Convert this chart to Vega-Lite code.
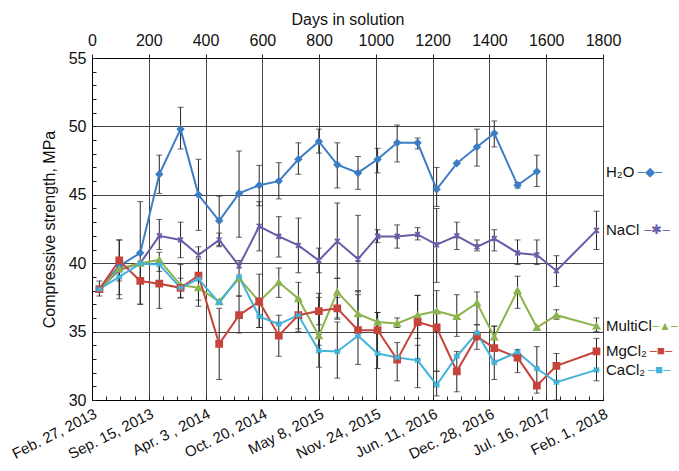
{
  "$schema": "https://vega.github.io/schema/vega-lite/v6.json",
  "width": 511,
  "height": 342,
  "autosize": {"type": "none"},
  "padding": {"left": 92, "top": 58, "right": 76, "bottom": 71},
  "config": {
    "font": "Liberation Sans, Arial, sans-serif",
    "view": {"stroke": "#000", "strokeWidth": 1},
    "axis": {
      "labelFont": "Liberation Sans, Arial, sans-serif",
      "titleFont": "Liberation Sans, Arial, sans-serif",
      "labelColor": "#111",
      "titleColor": "#111",
      "titleFontWeight": "normal",
      "domainColor": "#000",
      "tickColor": "#222",
      "gridColor": "#444",
      "gridWidth": 1
    }
  },
  "data": {
    "values": [
      {"series": "H₂O", "day": 26, "value": 38.1, "lo": 37.6, "hi": 38.7},
      {"series": "H₂O", "day": 96, "value": 39.8, "lo": 37.4, "hi": 41.7},
      {"series": "H₂O", "day": 170, "value": 40.75, "lo": 37.0, "hi": 44.5},
      {"series": "H₂O", "day": 237, "value": 46.5, "lo": 45.1, "hi": 47.9},
      {"series": "H₂O", "day": 312, "value": 49.8, "lo": 48.35, "hi": 51.4},
      {"series": "H₂O", "day": 375, "value": 45.0, "lo": 42.4, "hi": 47.6},
      {"series": "H₂O", "day": 448, "value": 43.1, "lo": 41.3, "hi": 44.9},
      {"series": "H₂O", "day": 518, "value": 45.1, "lo": 41.9, "hi": 48.2},
      {"series": "H₂O", "day": 589, "value": 45.7, "lo": 44.2, "hi": 47.15},
      {"series": "H₂O", "day": 658, "value": 46.0, "lo": 44.7, "hi": 47.35},
      {"series": "H₂O", "day": 727, "value": 47.6, "lo": 46.5, "hi": 48.8},
      {"series": "H₂O", "day": 799, "value": 48.9, "lo": 48.05, "hi": 49.8},
      {"series": "H₂O", "day": 864, "value": 47.2, "lo": 45.5, "hi": 48.8},
      {"series": "H₂O", "day": 937, "value": 46.6, "lo": 45.4, "hi": 47.8},
      {"series": "H₂O", "day": 1006, "value": 47.6, "lo": 46.6, "hi": 48.4},
      {"series": "H₂O", "day": 1075, "value": 48.8, "lo": 47.4, "hi": 50.1},
      {"series": "H₂O", "day": 1147, "value": 48.8, "lo": 48.35, "hi": 49.15},
      {"series": "H₂O", "day": 1214, "value": 45.4, "lo": 44.15, "hi": 47.0},
      {"series": "H₂O", "day": 1285, "value": 47.3, "lo": null, "hi": null},
      {"series": "H₂O", "day": 1356, "value": 48.5, "lo": 47.1, "hi": 49.8},
      {"series": "H₂O", "day": 1417, "value": 49.5, "lo": 48.5, "hi": 50.4},
      {"series": "H₂O", "day": 1499, "value": 45.7, "lo": 45.5, "hi": 45.9},
      {"series": "H₂O", "day": 1567, "value": 46.7, "lo": 45.6, "hi": 47.9},

      {"series": "NaCl", "day": 26, "value": 38.1, "lo": null, "hi": null},
      {"series": "NaCl", "day": 96, "value": 39.5, "lo": null, "hi": null},
      {"series": "NaCl", "day": 170, "value": 40.0, "lo": null, "hi": null},
      {"series": "NaCl", "day": 237, "value": 42.0, "lo": 41.0, "hi": 43.2},
      {"series": "NaCl", "day": 312, "value": 41.7, "lo": 40.4, "hi": 43.0},
      {"series": "NaCl", "day": 375, "value": 40.6, "lo": 40.0, "hi": 41.2},
      {"series": "NaCl", "day": 448, "value": 41.7, "lo": 41.2, "hi": 42.2},
      {"series": "NaCl", "day": 518, "value": 39.8, "lo": null, "hi": null},
      {"series": "NaCl", "day": 589, "value": 42.7, "lo": 40.9, "hi": 44.5},
      {"series": "NaCl", "day": 658, "value": 41.96, "lo": 40.45, "hi": 43.4},
      {"series": "NaCl", "day": 727, "value": 41.3, "lo": 39.3, "hi": 43.3},
      {"series": "NaCl", "day": 799, "value": 40.2, "lo": 39.3, "hi": 41.1},
      {"series": "NaCl", "day": 864, "value": 41.6, "lo": 38.9, "hi": 44.4},
      {"series": "NaCl", "day": 937, "value": 40.3, "lo": 37.9, "hi": 43.5},
      {"series": "NaCl", "day": 1006, "value": 41.96, "lo": 41.5, "hi": 42.45},
      {"series": "NaCl", "day": 1075, "value": 41.96, "lo": 41.1, "hi": 42.8},
      {"series": "NaCl", "day": 1147, "value": 42.1, "lo": 41.7, "hi": 42.6},
      {"series": "NaCl", "day": 1214, "value": 41.35, "lo": 38.6, "hi": 44.0},
      {"series": "NaCl", "day": 1285, "value": 42.0, "lo": 41.0, "hi": 43.0},
      {"series": "NaCl", "day": 1356, "value": 41.2, "lo": 40.9, "hi": 41.7},
      {"series": "NaCl", "day": 1417, "value": 41.8, "lo": 40.9, "hi": 42.45},
      {"series": "NaCl", "day": 1499, "value": 40.75, "lo": 39.9, "hi": 41.7},
      {"series": "NaCl", "day": 1567, "value": 40.6, "lo": 39.9, "hi": 41.7},
      {"series": "NaCl", "day": 1636, "value": 39.45, "lo": 38.3, "hi": 40.55},
      {"series": "NaCl", "day": 1777, "value": 42.4, "lo": 41.0, "hi": 43.8},

      {"series": "MultiCl", "day": 26, "value": 38.1, "lo": null, "hi": null},
      {"series": "MultiCl", "day": 96, "value": 39.6, "lo": null, "hi": null},
      {"series": "MultiCl", "day": 170, "value": 40.0, "lo": null, "hi": null},
      {"series": "MultiCl", "day": 237, "value": 40.25, "lo": 39.4, "hi": 40.8},
      {"series": "MultiCl", "day": 312, "value": 38.4, "lo": 37.45, "hi": 39.9},
      {"series": "MultiCl", "day": 375, "value": 38.2, "lo": 36.85, "hi": 38.9},
      {"series": "MultiCl", "day": 448, "value": 37.2, "lo": null, "hi": null},
      {"series": "MultiCl", "day": 518, "value": 38.9, "lo": 37.6, "hi": 40.2},
      {"series": "MultiCl", "day": 589, "value": 37.2, "lo": 35.3, "hi": 39.2},
      {"series": "MultiCl", "day": 658, "value": 38.6, "lo": 37.5, "hi": 39.65},
      {"series": "MultiCl", "day": 727, "value": 37.4, "lo": 35.2, "hi": 38.6},
      {"series": "MultiCl", "day": 799, "value": 34.7, "lo": 34.0, "hi": 37.8},
      {"series": "MultiCl", "day": 864, "value": 37.9, "lo": 36.0, "hi": 38.9},
      {"series": "MultiCl", "day": 937, "value": 36.3, "lo": 35.0, "hi": 38.0},
      {"series": "MultiCl", "day": 1006, "value": 35.7, "lo": 35.1, "hi": 36.4},
      {"series": "MultiCl", "day": 1075, "value": 35.6, "lo": 35.3, "hi": 36.0},
      {"series": "MultiCl", "day": 1147, "value": 36.2, "lo": 34.5, "hi": 37.65},
      {"series": "MultiCl", "day": 1214, "value": 36.5, "lo": 35.0, "hi": 38.0},
      {"series": "MultiCl", "day": 1285, "value": 36.1, "lo": 34.65, "hi": 37.7},
      {"series": "MultiCl", "day": 1356, "value": 37.1, "lo": 35.5, "hi": 37.9},
      {"series": "MultiCl", "day": 1417, "value": 34.6, "lo": 33.8, "hi": 35.4},
      {"series": "MultiCl", "day": 1499, "value": 38.0, "lo": 36.7, "hi": 39.05},
      {"series": "MultiCl", "day": 1567, "value": 35.3, "lo": null, "hi": null},
      {"series": "MultiCl", "day": 1636, "value": 36.2, "lo": 35.9, "hi": 36.6},
      {"series": "MultiCl", "day": 1777, "value": 35.4, "lo": 35.0, "hi": 36.0},

      {"series": "MgCl₂", "day": 26, "value": 38.1, "lo": null, "hi": null},
      {"series": "MgCl₂", "day": 96, "value": 40.2, "lo": 38.7, "hi": 41.7},
      {"series": "MgCl₂", "day": 170, "value": 38.7, "lo": 37.0, "hi": 40.0},
      {"series": "MgCl₂", "day": 237, "value": 38.5, "lo": 36.7, "hi": 40.0},
      {"series": "MgCl₂", "day": 312, "value": 38.2, "lo": 37.5, "hi": 38.9},
      {"series": "MgCl₂", "day": 375, "value": 39.1, "lo": 37.3, "hi": 40.3},
      {"series": "MgCl₂", "day": 448, "value": 34.1, "lo": 31.5, "hi": 36.7},
      {"series": "MgCl₂", "day": 518, "value": 36.2, "lo": 34.9, "hi": 37.6},
      {"series": "MgCl₂", "day": 589, "value": 37.2, "lo": null, "hi": null},
      {"series": "MgCl₂", "day": 658, "value": 34.7, "lo": 33.2, "hi": 36.2},
      {"series": "MgCl₂", "day": 727, "value": 36.2, "lo": 35.0, "hi": 37.4},
      {"series": "MgCl₂", "day": 799, "value": 36.5, "lo": 35.5, "hi": 37.5},
      {"series": "MgCl₂", "day": 864, "value": 36.7, "lo": 35.9, "hi": 37.5},
      {"series": "MgCl₂", "day": 937, "value": 35.1, "lo": 32.6, "hi": 37.7},
      {"series": "MgCl₂", "day": 1006, "value": 35.1, "lo": 32.3, "hi": 36.4},
      {"series": "MgCl₂", "day": 1075, "value": 32.95, "lo": 31.4, "hi": 34.2},
      {"series": "MgCl₂", "day": 1147, "value": 35.7, "lo": 33.0, "hi": 37.65},
      {"series": "MgCl₂", "day": 1214, "value": 35.3, "lo": 32.1, "hi": 36.5},
      {"series": "MgCl₂", "day": 1285, "value": 32.1, "lo": 30.6, "hi": 33.55},
      {"series": "MgCl₂", "day": 1356, "value": 34.65, "lo": 33.7, "hi": 35.5},
      {"series": "MgCl₂", "day": 1417, "value": 33.8, "lo": 31.5, "hi": 35.4},
      {"series": "MgCl₂", "day": 1499, "value": 33.1, "lo": 32.0, "hi": 33.7},
      {"series": "MgCl₂", "day": 1567, "value": 31.05, "lo": 30.5, "hi": 33.9},
      {"series": "MgCl₂", "day": 1636, "value": 32.5, "lo": 30.0, "hi": 33.4},
      {"series": "MgCl₂", "day": 1777, "value": 33.55, "lo": 31.4, "hi": 34.5},

      {"series": "CaCl₂", "day": 26, "value": 38.1, "lo": null, "hi": null},
      {"series": "CaCl₂", "day": 96, "value": 39.0, "lo": 37.7, "hi": 40.3},
      {"series": "CaCl₂", "day": 170, "value": 39.96, "lo": null, "hi": null},
      {"series": "CaCl₂", "day": 237, "value": 39.9, "lo": null, "hi": null},
      {"series": "CaCl₂", "day": 312, "value": 38.2, "lo": null, "hi": null},
      {"series": "CaCl₂", "day": 375, "value": 38.85, "lo": null, "hi": null},
      {"series": "CaCl₂", "day": 448, "value": 37.1, "lo": null, "hi": null},
      {"series": "CaCl₂", "day": 518, "value": 39.0, "lo": null, "hi": null},
      {"series": "CaCl₂", "day": 589, "value": 36.1, "lo": 35.3, "hi": 37.0},
      {"series": "CaCl₂", "day": 658, "value": 35.55, "lo": null, "hi": null},
      {"series": "CaCl₂", "day": 727, "value": 36.2, "lo": null, "hi": null},
      {"series": "CaCl₂", "day": 799, "value": 33.6, "lo": 32.4, "hi": 34.8},
      {"series": "CaCl₂", "day": 864, "value": 33.55, "lo": 31.6, "hi": 35.7},
      {"series": "CaCl₂", "day": 937, "value": 34.7, "lo": null, "hi": null},
      {"series": "CaCl₂", "day": 1006, "value": 33.4, "lo": null, "hi": null},
      {"series": "CaCl₂", "day": 1075, "value": 33.1, "lo": null, "hi": null},
      {"series": "CaCl₂", "day": 1147, "value": 32.9, "lo": 30.9, "hi": 34.0},
      {"series": "CaCl₂", "day": 1214, "value": 31.1, "lo": 30.3, "hi": 32.1},
      {"series": "CaCl₂", "day": 1285, "value": 33.2, "lo": null, "hi": null},
      {"series": "CaCl₂", "day": 1356, "value": 34.9, "lo": null, "hi": null},
      {"series": "CaCl₂", "day": 1417, "value": 32.75, "lo": null, "hi": null},
      {"series": "CaCl₂", "day": 1499, "value": 33.5, "lo": null, "hi": null},
      {"series": "CaCl₂", "day": 1567, "value": 32.3, "lo": null, "hi": null},
      {"series": "CaCl₂", "day": 1636, "value": 31.3, "lo": null, "hi": null},
      {"series": "CaCl₂", "day": 1777, "value": 32.2, "lo": null, "hi": null}
    ]
  },
  "layer": [
    {
      "transform": [{"filter": "isValid(datum.lo)"}],
      "mark": {"type": "rule", "color": "#222", "strokeWidth": 1},
      "encoding": {
        "x": {
          "field": "day", "type": "quantitative",
          "scale": {"domain": [0, 1800], "nice": false},
          "axis": {
            "orient": "bottom",
            "title": null,
            "values": [0,50,100,150,200,250,300,350,400,450,500,550,600,650,700,750,800,850,900,950,1000,1050,1100,1150,1200,1250,1300,1350,1400,1450,1500,1550,1600,1650,1700,1750,1800],
            "labelExpr": "datum.value % 200 === 0 ? ['Feb. 27, 2013','Sep. 15, 2013','Apr. 3 , 2014','Oct. 20, 2014','May 8, 2015','Nov. 24, 2015','Jun. 11, 2016','Dec. 28, 2016','Jul. 16, 2017','Feb. 1, 2018'][datum.value / 200] : ''",
            "labelAngle": -27,
            "labelAlign": "right",
            "labelBaseline": "top",
            "labelFontSize": 15,
            "labelPadding": 10,
            "labelOverlap": false,
            "labelFlush": false,
            "labelBound": false,
            "tickSize": -4,
            "grid": false
          }
        },
        "y": {
          "field": "lo", "type": "quantitative",
          "scale": {"domain": [30, 55], "nice": false, "zero": false},
          "axis": {
            "orient": "left",
            "title": "Compressive strength, MPa",
            "titleFontSize": 16,
            "titlePadding": 11,
            "values": [30,31,32,33,34,35,36,37,38,39,40,41,42,43,44,45,46,47,48,49,50,51,52,53,54,55],
            "labelExpr": "datum.value % 5 === 0 ? datum.label : ''",
            "labelFontSize": 16,
            "labelPadding": 10,
            "labelOverlap": false,
            "tickSize": -4,
            "grid": false
          }
        },
        "y2": {"field": "hi"}
      }
    },
    {
      "transform": [{"filter": "isValid(datum.lo)"}],
      "mark": {"type": "tick", "orient": "horizontal", "size": 6, "thickness": 1, "color": "#222"},
      "encoding": {
        "x": {"field": "day", "type": "quantitative", "axis": null},
        "y": {"field": "lo", "type": "quantitative", "axis": null}
      }
    },
    {
      "transform": [{"filter": "isValid(datum.hi)"}],
      "mark": {"type": "tick", "orient": "horizontal", "size": 6, "thickness": 1, "color": "#222"},
      "encoding": {
        "x": {"field": "day", "type": "quantitative", "axis": null},
        "y": {"field": "hi", "type": "quantitative", "axis": null}
      }
    },
    {
      "mark": {"type": "line", "strokeWidth": 2},
      "encoding": {
        "x": {
          "field": "day", "type": "quantitative",
          "axis": {
            "orient": "top",
            "title": "Days in solution",
            "titleFontSize": 16,
            "titlePadding": 5,
            "values": [0,200,400,600,800,1000,1200,1400,1600,1800],
            "format": "d",
            "labelFontSize": 16,
            "labelPadding": 6,
            "labelFlush": false,
            "labelOverlap": false,
            "tickSize": 4,
            "grid": true
          }
        },
        "y": {
          "field": "value", "type": "quantitative",
          "axis": {
            "orient": "left",
            "title": null,
            "values": [30,35,40,45,50,55],
            "labels": false,
            "ticks": false,
            "domain": false,
            "grid": true
          }
        },
        "color": {
          "field": "series", "type": "nominal",
          "scale": {"domain": ["H₂O", "NaCl", "MultiCl", "MgCl₂", "CaCl₂"], "range": ["#3d7dc3", "#6a5ba6", "#8db34d", "#c6443b", "#43b3db"]},
          "legend": null
        },
        "detail": {"field": "series"}
      }
    },
    {
      "mark": {"type": "point", "filled": true, "size": 38, "strokeWidth": 1.6, "opacity": 1},
      "encoding": {
        "x": {"field": "day", "type": "quantitative", "axis": null},
        "y": {"field": "value", "type": "quantitative", "axis": null},
        "color": {"field": "series", "type": "nominal", "legend": null},
        "stroke": {
          "field": "series", "type": "nominal",
          "scale": {"domain": ["H₂O", "NaCl", "MultiCl", "MgCl₂", "CaCl₂"], "range": ["#3d7dc3", "#6a5ba6", "#8db34d", "#c6443b", "#43b3db"]},
          "legend": null
        },
        "shape": {
          "field": "series", "type": "nominal",
          "scale": {"domain": ["H₂O", "NaCl", "MultiCl", "MgCl₂", "CaCl₂"], "range": ["diamond", "M-0.8,-0.8L0.8,0.8M-0.8,0.8L0.8,-0.8M0,-1L0,1", "triangle-up", "square", "M-0.8,-0.8L0.8,0.8M-0.8,0.8L0.8,-0.8M-1,0L1,0"]},
          "legend": null
        }
      }
    },
    {
      "transform": [
        {"joinaggregate": [{"op": "max", "field": "day", "as": "lastDay"}], "groupby": ["series"]},
        {"filter": "datum.day === datum.lastDay"}
      ],
      "mark": {"type": "text", "align": "left", "baseline": "middle", "dx": 3, "fontSize": 15, "color": "#111"},
      "encoding": {
        "x": {"datum": 1800, "type": "quantitative", "axis": null},
        "y": {"field": "value", "type": "quantitative", "axis": null},
        "text": {"field": "series"}
      }
    },
    {
      "transform": [
        {"joinaggregate": [{"op": "max", "field": "day", "as": "lastDay"}], "groupby": ["series"]},
        {"filter": "datum.day === datum.lastDay && datum.series === 'H₂O'"}
      ],
      "mark": {"type": "text", "align": "center", "baseline": "middle", "dx": 47, "fontSize": 13, "color": "#3d7dc3", "text": "–◆–"},
      "encoding": {
        "x": {"datum": 1800, "type": "quantitative", "axis": null},
        "y": {"field": "value", "type": "quantitative", "axis": null}
      }
    },
    {
      "transform": [
        {"joinaggregate": [{"op": "max", "field": "day", "as": "lastDay"}], "groupby": ["series"]},
        {"filter": "datum.day === datum.lastDay && datum.series === 'NaCl'"}
      ],
      "mark": {"type": "text", "align": "center", "baseline": "middle", "dx": 54, "fontSize": 13, "color": "#6a5ba6", "text": "–✱–"},
      "encoding": {
        "x": {"datum": 1800, "type": "quantitative", "axis": null},
        "y": {"field": "value", "type": "quantitative", "axis": null}
      }
    },
    {
      "transform": [
        {"joinaggregate": [{"op": "max", "field": "day", "as": "lastDay"}], "groupby": ["series"]},
        {"filter": "datum.day === datum.lastDay && datum.series === 'MultiCl'"}
      ],
      "mark": {"type": "text", "align": "center", "baseline": "middle", "dx": 62, "fontSize": 12, "color": "#8db34d", "text": "–▲–"},
      "encoding": {
        "x": {"datum": 1800, "type": "quantitative", "axis": null},
        "y": {"field": "value", "type": "quantitative", "axis": null}
      }
    },
    {
      "transform": [
        {"joinaggregate": [{"op": "max", "field": "day", "as": "lastDay"}], "groupby": ["series"]},
        {"filter": "datum.day === datum.lastDay && datum.series === 'MgCl₂'"}
      ],
      "mark": {"type": "text", "align": "center", "baseline": "middle", "dx": 58, "fontSize": 13, "color": "#c6443b", "text": "–■–"},
      "encoding": {
        "x": {"datum": 1800, "type": "quantitative", "axis": null},
        "y": {"field": "value", "type": "quantitative", "axis": null}
      }
    },
    {
      "transform": [
        {"joinaggregate": [{"op": "max", "field": "day", "as": "lastDay"}], "groupby": ["series"]},
        {"filter": "datum.day === datum.lastDay && datum.series === 'CaCl₂'"}
      ],
      "mark": {"type": "text", "align": "center", "baseline": "middle", "dx": 56, "fontSize": 13, "color": "#43b3db", "text": "–■–"},
      "encoding": {
        "x": {"datum": 1800, "type": "quantitative", "axis": null},
        "y": {"field": "value", "type": "quantitative", "axis": null}
      }
    }
  ],
  "resolve": {"axis": {"x": "independent", "y": "independent"}}
}
